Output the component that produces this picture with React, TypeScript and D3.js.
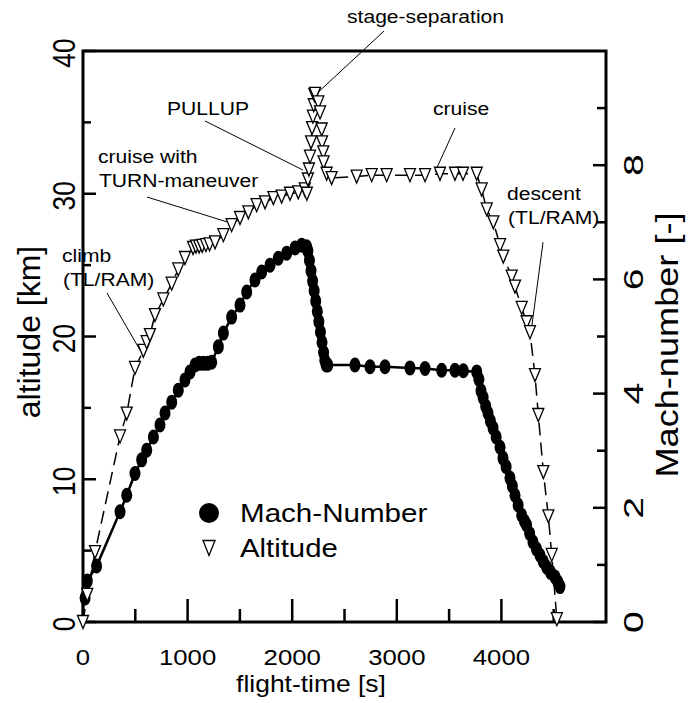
import React, { useRef, useEffect } from "react";
import * as d3 from "d3";

// Mach-number (filled dots, solid line)
const machTime = [
  20, 41, 130, 354, 418, 497, 561, 609, 673, 736, 784, 848, 911, 975, 1023, 1071,
  1110, 1150, 1190, 1230, 1294, 1342, 1421, 1501, 1565, 1644, 1708, 1788, 1867,
  1947, 2027, 2091, 2138, 2150, 2165, 2180, 2195, 2210, 2225, 2240, 2255, 2270,
  2285, 2300, 2312, 2325, 2340, 2600, 2744, 2887, 3126, 3270, 3429, 3556, 3636,
  3764, 3785, 3805, 3825, 3850, 3872, 3895, 3920, 3950, 3987, 4015, 4045, 4082,
  4105, 4130, 4160, 4194, 4220, 4241, 4270, 4302, 4335, 4369, 4400, 4433, 4470,
  4512, 4540, 4560,
];
const machValue = [
  0.42, 0.72, 0.98, 1.93, 2.22, 2.6, 2.84, 3.01, 3.24, 3.45, 3.66, 3.85, 4.06, 4.24,
  4.38, 4.5, 4.53, 4.53, 4.53, 4.55, 4.82, 5.06, 5.34, 5.55, 5.78, 5.99, 6.13, 6.25,
  6.37, 6.46, 6.55, 6.6, 6.57, 6.5, 6.33, 6.15, 5.97, 5.8, 5.62, 5.44, 5.26, 5.08,
  4.9, 4.72, 4.58, 4.5, 4.5, 4.5, 4.47, 4.47, 4.45, 4.44, 4.41, 4.41, 4.4, 4.38,
  4.25, 4.05, 3.93, 3.78, 3.66, 3.52, 3.4, 3.24, 3.06, 2.87, 2.72, 2.52, 2.38, 2.22,
  2.05, 1.87, 1.77, 1.7, 1.55, 1.4, 1.28, 1.17, 1.06, 0.96, 0.87, 0.79, 0.7, 0.62,
];

// Altitude (open triangles, dashed line)
const altTime = [
  0, 41, 115, 354, 418, 497, 577, 609, 640, 688, 768, 848, 911, 975, 1052, 1080,
  1110, 1140, 1175, 1210, 1262, 1342, 1421, 1501, 1581, 1660, 1740, 1820, 1899,
  1979, 2058, 2120, 2140, 2150, 2160, 2170, 2180, 2190, 2198, 2206, 2212, 2218,
  2250, 2266, 2282, 2285, 2297, 2300, 2329, 2377, 2616, 2760, 2903, 3126, 3270,
  3413, 3556, 3633, 3764, 3811, 3860, 3923, 3987, 4018, 4098, 4130, 4194, 4241,
  4273, 4321, 4353, 4401, 4449, 4481, 4530,
];
const altValue = [
  0, 1.9, 4.9, 13.0, 14.6, 17.8, 19.0, 19.6, 20.1, 21.5, 22.6, 23.7, 24.7, 25.5, 26.2,
  26.3, 26.3, 26.35, 26.4, 26.45, 26.6, 27.1, 27.8, 28.3, 28.7, 29.2, 29.4, 29.7, 29.8,
  30.0, 30.1, 30.3, 30.0, 31.0, 31.7, 32.6, 33.6, 34.6, 35.4, 36.2, 36.9, 37.0, 36.4,
  35.7, 34.5, 33.6, 32.9, 32.2, 31.4, 31.1, 31.2, 31.3, 31.3, 31.3, 31.3, 31.4, 31.4,
  31.4, 31.4, 30.3, 28.9, 28.0, 26.4, 25.6, 24.2, 23.5, 22.0, 21.0, 20.3, 17.3, 14.5,
  10.5, 7.4, 4.7, 0.2,
];

const timeTicks = [0, 1000, 2000, 3000, 4000];
const timeMinor = [500, 1500, 2500, 3500, 4500];
const altTicks = [0, 10, 20, 30, 40];
const altMinor = [5, 15, 25, 35];
const machTicks = [0, 2, 4, 6, 8];
const machMinor = [1, 3, 5, 7, 9];

// annotation labels, anchored in (time, altitude) units
const noteLabels = [
  ["stage-separation"],
  ["PULLUP"],
  ["cruise with", "TURN-maneuver"],
  ["climb", "(TL/RAM)"],
  ["cruise"],
  ["descent", "(TL/RAM)"],
];
const noteAt = [
  [2524, 41.95],
  [803, 35.5],
  [143, 32.15],
  [-201, 25.2],
  [3346, 35.5],
  [4054, 29.55],
];
const notePointer = [
  [[2878, 41.4], [2247, 37.1]],
  [[1166, 35.1], [2103, 31.66]],
  [[612, 29.77], [1377, 28.03]],
  [[229, 23.05], [545, 19.05]],
  [[3556, 34.6], [3365, 31.52]],
  [[4398, 26.6], [4283, 20.3]],
];

const W = 691;
const H = 703;
const FONT = "'Liberation Sans', Arial, Helvetica, sans-serif";

const App = () => {
  const svgRef = useRef(null);

  useEffect(() => {
    const svg = d3.select(svgRef.current);
    svg.selectAll("*").remove();

    const x = d3.scaleLinear().domain([0, 5000]).range([83, 606]);
    const yAlt = d3.scaleLinear().domain([0, 40]).range([622, 51]);
    const yMach = d3.scaleLinear().domain([0, 10]).range([622, 51]);

    const g = svg.append("g").style("font-family", FONT);

    const hText = (px, py, s, size, sx, anchor = "start") =>
      g.append("text")
        .attr("transform", `translate(${px},${py}) scale(${sx},1)`)
        .attr("text-anchor", anchor)
        .style("font-size", size + "px")
        .text(s);

    const vText = (px, py, s, size, sy) =>
      g.append("text")
        .attr("transform", `translate(${px},${py}) rotate(-90) scale(${sy},1)`)
        .attr("text-anchor", "middle")
        .style("font-size", size + "px")
        .text(s);

    // ticks (inside)
    const tick = (x1, y1, x2, y2) =>
      g.append("line")
        .attr("x1", x1).attr("y1", y1).attr("x2", x2).attr("y2", y2)
        .attr("stroke", "black").attr("stroke-width", 2.5);

    timeTicks.forEach(t => tick(x(t), yAlt(0), x(t), yAlt(0) - 23));
    timeMinor.forEach(t => tick(x(t), yAlt(0), x(t), yAlt(0) - 13));
    altTicks.forEach(a => tick(x(0), yAlt(a), x(0) + 13, yAlt(a)));
    altMinor.forEach(a => tick(x(0), yAlt(a), x(0) + 8, yAlt(a)));
    machTicks.forEach(m => tick(x(5000), yMach(m), x(5000) - 13, yMach(m)));
    machMinor.forEach(m => tick(x(5000), yMach(m), x(5000) - 9, yMach(m)));

    // frame
    g.append("rect")
      .attr("x", x(0)).attr("y", yAlt(40))
      .attr("width", x(5000) - x(0)).attr("height", yAlt(0) - yAlt(40))
      .attr("fill", "none").attr("stroke", "black").attr("stroke-width", 3);

    // tick labels
    timeTicks.forEach(t => hText(x(t), 665, String(t), 23, 1.12, "middle"));
    altTicks.forEach(a => vText(75, yAlt(a) + 2, String(a), 31, 0.85));
    machTicks.forEach(m => vText(643, yMach(m), String(m), 28, 1.4));

    // axis titles
    hText(311, 692, "flight-time [s]", 23, 1.15, "middle");
    vText(40, 332, "altitude [km]", 32, 1.0);
    vText(678, 345, "Mach-number [-]", 32, 1.13);

    // annotations
    notePointer.forEach(([a, b]) => {
      g.append("line")
        .attr("x1", x(a[0])).attr("y1", yAlt(a[1]))
        .attr("x2", x(b[0])).attr("y2", yAlt(b[1]))
        .attr("stroke", "black").attr("stroke-width", 1);
    });
    noteLabels.forEach((lines, i) => {
      lines.forEach((s, j) =>
        hText(x(noteAt[i][0]) + (j ? 1 : 0), yAlt(noteAt[i][1]) + j * 24, s, 18.5, 1.14)
      );
    });

    const machPts = machTime.map((t, i) => [t, machValue[i]]);
    const altPts = altTime.map((t, i) => [t, altValue[i]]);

    // altitude dashed line
    g.append("path")
      .attr("d", d3.line().x(d => x(d[0])).y(d => yAlt(d[1]))(altPts))
      .attr("fill", "none").attr("stroke", "black")
      .attr("stroke-width", 1.5).attr("stroke-dasharray", "13,7");

    // mach solid line
    g.append("path")
      .attr("d", d3.line().x(d => x(d[0])).y(d => yMach(d[1]))(machPts))
      .attr("fill", "none").attr("stroke", "black").attr("stroke-width", 2.5);

    g.selectAll(".mach")
      .data(machPts)
      .enter()
      .append("ellipse")
      .attr("cx", d => x(d[0]))
      .attr("cy", d => yMach(d[1]))
      .attr("rx", 5.5)
      .attr("ry", 7.5)
      .attr("fill", "black");

    const tri = (cx, cy, w, h) =>
      `M${cx - w / 2},${cy - h / 2}L${cx + w / 2},${cy - h / 2}L${cx},${cy + h / 2}Z`;

    g.selectAll(".alt")
      .data(altPts)
      .enter()
      .append("path")
      .attr("d", d => tri(x(d[0]), yAlt(d[1]), 11, 13))
      .attr("fill", "white").attr("stroke", "black").attr("stroke-width", 1.3);

    // legend
    g.append("circle").attr("cx", 209).attr("cy", 513).attr("r", 10).attr("fill", "black");
    hText(240, 522, "Mach-Number", 25.5, 1.16);
    g.append("path").attr("d", tri(209, 548, 12, 15))
      .attr("fill", "white").attr("stroke", "black").attr("stroke-width", 1.3);
    hText(240, 557, "Altitude", 25.5, 1.15);
  }, []);

  return (
    <svg
      ref={svgRef}
      width={W}
      height={H}
      style={{ position: "absolute", left: 0, top: 0, background: "white" }}
    ></svg>
  );
};

export default App;
